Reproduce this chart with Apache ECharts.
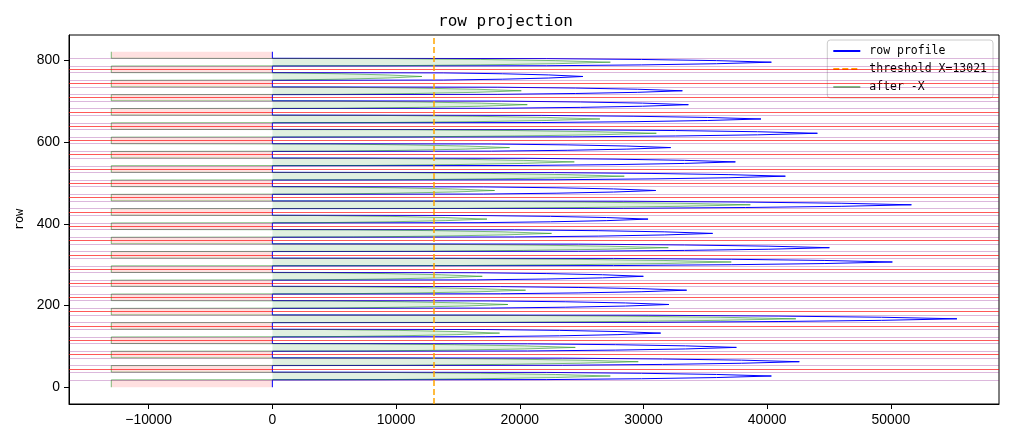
<!DOCTYPE html>
<html><head><meta charset="utf-8">
<script src="https://cdn.jsdelivr.net/npm/echarts@6/dist/echarts.min.js"></script>
<style>html,body{margin:0;padding:0;background:#fff}#c{width:1011px;height:442px}</style>
</head><body><div id="c"></div>
<script>
// ---- data ----
const THRESHOLD = 13021;
const LAST_ROW = 821;
// text bands, listed from top of the image (high rows) to bottom
const BAND_LOW  = [786, 751, 716, 682, 647, 612, 577, 542, 507, 472, 437, 402, 367, 332, 297, 262, 228, 193, 158, 123, 88, 53, 18];
const BAND_HIGH = [805, 770, 735, 701, 666, 631, 596, 561, 526, 491, 456, 421, 386, 351, 316, 281, 247, 212, 177, 142, 107, 72, 37];
const BAND_PEAK = [40340, 25110, 33145, 33630, 39500, 44060, 32200, 37430, 41470, 30990, 51660, 30370, 35590, 45030, 50120, 29990, 33490, 32060, 55340, 31390, 37510, 42600, 40340];
// cut rows (red lines) between consecutive bands
const CUT_ROWS = [778, 743, 708.5, 674, 639, 604, 569, 534, 499, 464, 429, 394, 359, 324, 289, 254.5, 220, 185, 150, 115, 80, 45];
// shape of one band's profile across the band (fraction of band height, fraction of peak)
const SHAPE_U = [0, 0.04, 0.15, 0.3, 0.5, 0.7, 0.85, 0.96, 1];
const SHAPE_F = [0, 0.55, 0.74, 0.89, 1, 0.89, 0.74, 0.55, 0];

// ---- build series data ----
const order = BAND_LOW.map((_, i) => i).reverse(); // increasing rows
const profile = [[0, 0]];
const bandPts = [];
order.forEach(k => {
  const pts = SHAPE_U.map((u, i) => [BAND_PEAK[k] * SHAPE_F[i], BAND_LOW[k] + u * (BAND_HIGH[k] - BAND_LOW[k])]);
  bandPts.push(pts);
  pts.forEach(p => profile.push(p));
});
profile.push([0, LAST_ROW]);
const after = profile.map(p => [p[0] - THRESHOLD, p[1]]);

const greenPolys = bandPts.map(pts => pts.map(p => [Math.max(0, p[0] - THRESHOLD), p[1]]));
const gaps = [];
gaps.push([0, BAND_LOW[BAND_LOW.length - 1]]);
for (let k = BAND_LOW.length - 1; k >= 1; k--) gaps.push([BAND_HIGH[k], BAND_LOW[k - 1]]);
gaps.push([BAND_HIGH[0], LAST_ROW]);
const pinkPolys = gaps.map(g => [[-THRESHOLD, g[0]], [0, g[0]], [0, g[1]], [-THRESHOLD, g[1]]]);

const edgeRows = [];
BAND_LOW.forEach((v, i) => { edgeRows.push(v); edgeRows.push(BAND_HIGH[i]); });

function polySeries(polys, fill) {
  return {
    type: 'custom', silent: true, z: 1,
    data: polys.map((_, i) => [i]),
    renderItem: function (params, api) {
      const pts = polys[params.dataIndex].map(p => api.coord(p));
      return { type: 'polygon', shape: { points: pts }, style: { fill: fill } };
    }
  };
}
function hLines(rows, color) {
  return {
    type: 'line', data: [], silent: true, z: 2,
    markLine: {
      silent: true, symbol: ['none', 'none'], label: { show: false },
      lineStyle: { color: color, width: 1, type: 'solid' },
      emphasis: { disabled: true },
      data: rows.map(r => ({ yAxis: r }))
    }
  };
}

const MONO = '"DejaVu Sans Mono", "Liberation Mono", monospace';
const SANS = '"Liberation Sans", Arial, sans-serif';
const chart = echarts.init(document.getElementById('c'), null, { renderer: 'canvas' });
chart.setOption({
  animation: false,
  backgroundColor: '#fff',
  title: {
    text: 'row projection', left: 'center', top: 9,
    textStyle: { fontFamily: MONO, fontSize: 16, fontWeight: 'normal', color: '#000' }
  },
  legend: {
    data: ['row profile', 'threshold X=13021', 'after -X'],
    orient: 'vertical', right: 18, top: 40,
    itemWidth: 27, itemHeight: 12, itemGap: 6,
    padding: [5, 6, 5, 5],
    backgroundColor: 'rgba(255,255,255,0.8)',
    borderColor: '#cccccc', borderWidth: 1, borderRadius: 3,
    itemStyle: { opacity: 0 },
    textStyle: { fontFamily: MONO, fontSize: 11.5, color: '#000', padding: [0, 0, 0, 4] }
  },
  grid: { left: 69, right: 12, top: 35, bottom: 38, show: true, borderColor: '#000', borderWidth: 1, backgroundColor: 'transparent' },
  xAxis: {
    type: 'value', min: -16440, max: 58740, splitNumber: 7,
    splitLine: { show: false },
    axisLine: { onZero: false, lineStyle: { color: '#000' } },
    axisTick: { show: true, length: 5, lineStyle: { color: '#000' } },
    axisLabel: {
      margin: 9, color: '#000', fontFamily: SANS, fontSize: 13.9,
      showMinLabel: false, showMaxLabel: false,
      formatter: v => (v % 10000 === 0 ? String(v).replace('-', '\u2212') : '')
    }
  },
  yAxis: {
    type: 'value', min: -41, max: 862, splitNumber: 5,
    name: 'row', nameLocation: 'middle', nameGap: 43,
    nameTextStyle: { fontFamily: MONO, fontSize: 12, color: '#000' },
    splitLine: { show: false },
    axisLine: { show: true, onZero: false, lineStyle: { color: '#000' } },
    axisTick: { show: true, length: 5, lineStyle: { color: '#000' } },
    axisLabel: {
      margin: 9, color: '#000', fontFamily: SANS, fontSize: 13.9,
      showMinLabel: false, showMaxLabel: false,
      formatter: v => (v % 200 === 0 ? String(v) : '')
    }
  },
  series: [
    polySeries(pinkPolys, 'rgba(255,0,0,0.12)'),
    polySeries(greenPolys, 'rgba(0,128,0,0.12)'),
    hLines(edgeRows, 'rgba(128,0,128,0.28)'),
    hLines(CUT_ROWS, 'rgba(255,0,0,0.65)'),
    {
      name: 'row profile', type: 'line', data: profile, showSymbol: false, symbol: 'none', z: 3,
      lineStyle: { color: 'blue', width: 1 }, itemStyle: { color: 'blue' }, silent: true
    },
    {
      name: 'threshold X=13021', type: 'line', data: [], symbol: 'none', z: 5,
      lineStyle: { color: 'orange', width: 1.5, type: [6, 3] }, itemStyle: { color: 'orange' },
      markLine: {
        silent: true, symbol: ['none', 'none'], label: { show: false },
        lineStyle: { color: 'orange', width: 1.5, type: [6, 3] },
        data: [{ xAxis: THRESHOLD }]
      }
    },
    {
      name: 'after -X', type: 'line', data: after, showSymbol: false, symbol: 'none', z: 4,
      lineStyle: { color: 'rgba(0,128,0,0.5)', width: 1 }, itemStyle: { color: 'rgba(0,128,0,0.5)' }, silent: true
    }
  ]
});
</script>
</body></html>
